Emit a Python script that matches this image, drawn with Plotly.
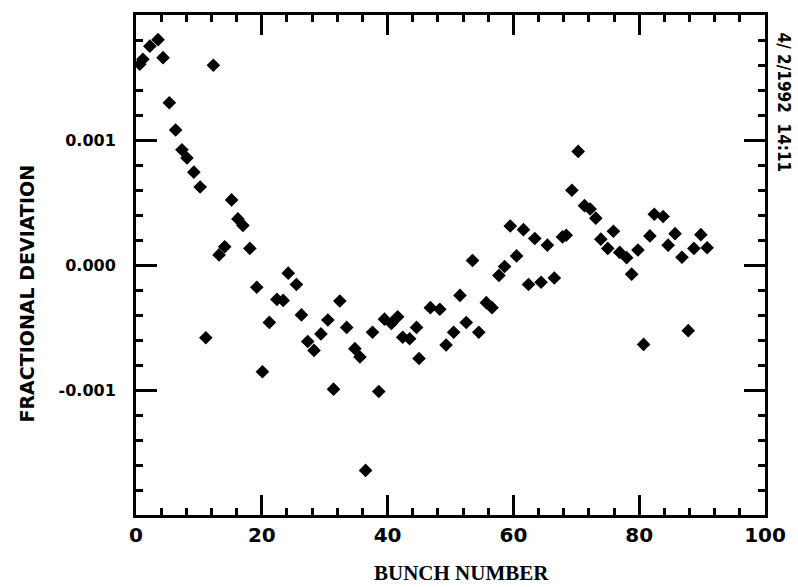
import plotly.graph_objects as go

bunch = [0.6, 1.1, 2.2, 3.5, 4.3, 5.3, 6.3, 7.3, 8.1, 9.2,
         10.2, 11.1, 12.3, 13.2, 14.1, 15.2, 16.2, 17.0, 18.1, 19.2,
         20.1, 21.2, 22.4, 23.4, 24.2, 25.5, 26.3, 27.3, 28.3, 29.4,
         30.5, 31.4, 32.4, 33.5, 34.8, 35.6, 36.5, 37.6, 38.6, 39.5,
         40.6, 41.6, 42.4, 43.5, 44.6, 45.0, 46.8, 48.3, 49.3, 50.5,
         51.5, 52.5, 53.5, 54.5, 55.7, 56.6, 57.7, 58.6, 59.5, 60.5,
         61.6, 62.4, 63.4, 64.4, 65.4, 66.5, 67.8, 68.4, 69.3, 70.3,
         71.3, 72.2, 73.1, 73.9, 75.0, 75.9, 76.9, 78.0, 78.8, 79.8,
         80.7, 81.7, 82.4, 83.8, 84.6, 85.7, 86.8, 87.8, 88.7, 89.8,
         90.8]
deviation = [0.001606, 0.001646, 0.001751, 0.001803, 0.001659, 0.001298, 0.001080, 0.000922, 0.000856, 0.000743,
             0.000624, -0.000582, 0.001598, 0.000081, 0.000146, 0.000521, 0.000369, 0.000317, 0.000133, -0.000178,
             -0.000854, -0.000459, -0.000275, -0.000283, -0.000065, -0.000156, -0.000399, -0.000612, -0.000683, -0.000551,
             -0.000440, -0.000993, -0.000288, -0.000499, -0.000669, -0.000736, -0.001643, -0.000538, -0.001012, -0.000433,
             -0.000467, -0.000414, -0.000578, -0.000590, -0.000499, -0.000748, -0.000341, -0.000354, -0.000640, -0.000538,
             -0.000243, -0.000460, 0.000036, -0.000538, -0.000301, -0.000341, -0.000083, -0.000012, 0.000312, 0.000073,
             0.000283, -0.000156, 0.000212, -0.000138, 0.000159, -0.000104, 0.000225, 0.000238, 0.000598, 0.000909,
             0.000475, 0.000448, 0.000375, 0.000207, 0.000133, 0.000270, 0.000101, 0.000059, -0.000073, 0.000120,
             -0.000635, 0.000233, 0.000406, 0.000388, 0.000159, 0.000251, 0.000062, -0.000525, 0.000133, 0.000243,
             0.000138]

x_ticks = [0, 20, 40, 60, 80, 100]
x_ticklabels = ["0", "20", "40", "60", "80", "100"]
y_ticks = [-0.001, 0.0, 0.001]
y_ticklabels = ["-0.001", "0.000", "0.001"]

W, H = 798, 587
L, R, T, B = 136, 32, 12, 72
PW, PH = W - L - R, H - T - B


def px_x(px):
    return (px - L) / PW


def px_y(py):
    return 1 - (py - T) / PH


fig = go.Figure()
fig.add_trace(go.Scatter(
    x=bunch, y=deviation, mode="markers",
    marker=dict(symbol="diamond", size=10.5, color="black", line=dict(width=0)),
    showlegend=False, cliponaxis=False,
))

axis_common = dict(
    showgrid=False, zeroline=False, showline=True, linecolor="black", linewidth=3,
    mirror="ticks", ticks="inside", tickcolor="black", tickwidth=3,
)

fig.update_xaxes(
    range=[0, 100], tickmode="array", tickvals=x_ticks, ticktext=x_ticklabels,
    ticklen=20,
    tickfont=dict(family="DejaVu Sans", size=20, color="black", weight="bold"),
    minor=dict(tickmode="array", tickvals=[v for v in range(4, 100, 4) if v % 20], ticks="inside",
               ticklen=7, tickwidth=3, tickcolor="black", showgrid=False),
    **axis_common,
)
fig.update_yaxes(
    range=[-0.002, 0.002], tickmode="array", tickvals=y_ticks, ticktext=y_ticklabels,
    ticklen=21,
    tickfont=dict(family="DejaVu Sans", size=16, color="black", weight="bold"),
    minor=dict(tickmode="array",
               tickvals=[round(-0.002 + 0.0002 * i, 6) for i in range(1, 20) if i % 5],
               ticks="inside", ticklen=7, tickwidth=3, tickcolor="black", showgrid=False),
    ticklabelstandoff=14,
    **axis_common,
)

fig.add_annotation(
    text="FRACTIONAL DEVIATION", textangle=-90,
    x=px_x(27), y=px_y(292), xref="paper", yref="paper",
    xanchor="center", yanchor="middle", showarrow=False,
    font=dict(family="DejaVu Sans", size=19, color="black", weight="bold"),
)
fig.add_annotation(
    text="BUNCH NUMBER",
    x=px_x(462), y=px_y(573), xref="paper", yref="paper",
    xanchor="center", yanchor="middle", showarrow=False,
    font=dict(family="Liberation Serif", size=21, color="black", weight="bold"),
)
fig.add_annotation(
    text="4/ 2/1992  14:11", textangle=90,
    x=px_x(785), y=px_y(100), xref="paper", yref="paper",
    xanchor="center", yanchor="middle", showarrow=False,
    font=dict(family="DejaVu Sans Condensed", size=17, color="black", weight="bold"),
)

fig.update_layout(
    width=W, height=H, margin=dict(l=L, r=R, t=T, b=B),
    paper_bgcolor="white", plot_bgcolor="white",
)

fig.write_html("out.html")
